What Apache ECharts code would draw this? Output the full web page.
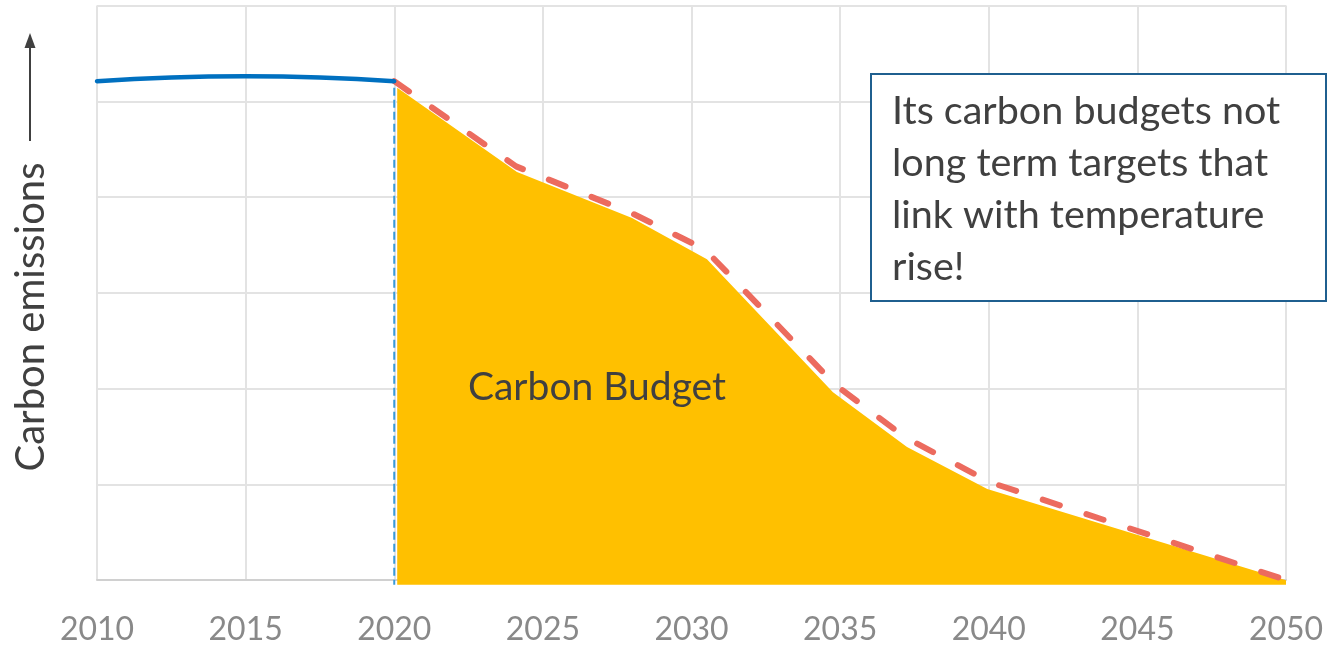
<!DOCTYPE html>
<html>
<head>
<meta charset="utf-8">
<script src="https://cdn.jsdelivr.net/npm/echarts@6/dist/echarts.min.js"></script>
<style>
  html, body { margin: 0; padding: 0; background: #ffffff; }
  #chart { width: 1327px; height: 646px; }
</style>
</head>
<body>
<div id="chart"></div>
<script>
// Tick years shown on the horizontal axis
const tickYears = [2010, 2015, 2020, 2025, 2030, 2035, 2040, 2045, 2050];

// Historic emissions (solid blue line)
const historicYears = [2010, 2015, 2020];
const historicValues = [5.21, 5.26, 5.21];

// Reduction pathway (red dashed line)
const pathwayYears = [2020, 2024.1, 2028.0, 2030.46, 2034.83, 2037.19, 2040.05, 2050];
const pathwayValues = [5.21, 4.32, 3.83, 3.45, 2.04, 1.49, 1.02, 0];

// Carbon budget (yellow filled region under the pathway)
const budgetYears = [2020.1, 2024.13, 2028.0, 2030.52, 2034.76, 2037.25, 2039.95, 2050.5];
const budgetValues = [5.14, 4.26, 3.78, 3.35, 1.96, 1.39, 0.95, -0.05];

// Start year marker (thin blue dashed vertical)
const markerYears = [2020, 2020];
const markerValues = [5.14, -0.05];

const pairs = (xs, ys) => xs.map((x, i) => [x, ys[i]]);

const FONT = 'Lato, "Open Sans", sans-serif';
const TEXT_COLOR = '#404040';

const chart = echarts.init(document.getElementById('chart'), null, { renderer: 'canvas' });

chart.setOption({
  animation: false,
  grid: { left: 97, right: 41, top: 5.5, bottom: 66, containLabel: false },
  xAxis: {
    type: 'value',
    min: 2010,
    max: 2050,
    interval: 5,
    axisLine: { show: true, lineStyle: { color: '#d0d0d0', width: 2 } },
    axisTick: { show: false },
    axisLabel: {
      margin: 34,
      color: '#898989',
      fontFamily: FONT,
      fontSize: 32,
      formatter: v => String(tickYears.find(t => t === v) ?? v)
    },
    splitLine: { show: true, lineStyle: { color: '#e3e3e3', width: 2 } }
  },
  yAxis: {
    type: 'value',
    min: 0,
    max: 6,
    interval: 1,
    axisLine: { show: false },
    axisTick: { show: false },
    axisLabel: { show: false },
    splitLine: { show: true, lineStyle: { color: '#e3e3e3', width: 2 } }
  },
  series: [
    {
      name: 'Carbon Budget',
      type: 'line',
      data: pairs(budgetYears, budgetValues),
      showSymbol: false,
      clip: false,
      z: 1,
      lineStyle: { width: 0, opacity: 0 },
      areaStyle: { color: '#FFC000', opacity: 1, origin: -0.05 }
    },
    {
      name: 'Start',
      type: 'line',
      data: pairs(markerYears, markerValues),
      showSymbol: false,
      clip: false,
      z: 2,
      lineStyle: { color: '#3a9ad9', width: 2, type: [8, 4] }
    },
    {
      name: 'Pathway',
      type: 'line',
      data: pairs(pathwayYears, pathwayValues),
      showSymbol: false,
      clip: false,
      z: 3,
      lineStyle: { color: '#EC6B5E', width: 6, type: [18, 28], cap: 'round' }
    },
    {
      name: 'Historic',
      type: 'line',
      data: pairs(historicYears, historicValues),
      smooth: true,
      showSymbol: false,
      z: 4,
      lineStyle: { color: '#0070C0', width: 4.5, cap: 'round' }
    }
  ],
  graphic: [
    // axis title with an upward arrow
    {
      type: 'text',
      x: 31,
      y: 317,
      rotation: Math.PI / 2,
      style: {
        text: 'Carbon emissions',
        fill: TEXT_COLOR,
        font: '40px ' + FONT,
        textAlign: 'center',
        textVerticalAlign: 'middle'
      }
    },
    {
      type: 'line',
      shape: { x1: 30, y1: 141, x2: 30, y2: 46 },
      style: { stroke: TEXT_COLOR, lineWidth: 2 }
    },
    {
      type: 'polygon',
      shape: { points: [[30, 33], [24.5, 48], [35.5, 48]] },
      style: { fill: TEXT_COLOR }
    },
    // label inside the budget area
    {
      type: 'text',
      x: 597,
      y: 387,
      z: 10,
      style: {
        text: 'Carbon Budget',
        fill: TEXT_COLOR,
        font: '39px ' + FONT,
        textAlign: 'center',
        textVerticalAlign: 'middle'
      }
    },
    // callout box
    {
      type: 'rect',
      z: 10,
      shape: { x: 871, y: 74, width: 455, height: 227 },
      style: { fill: '#ffffff', stroke: '#1F5F8F', lineWidth: 2 }
    },
    {
      type: 'text',
      z: 11,
      x: 892,
      y: 85,
      style: {
        text: 'Its carbon budgets not\nlong term targets that\nlink with temperature\nrise!',
        fill: TEXT_COLOR,
        font: '39.5px ' + FONT,
        lineHeight: 52,
        textAlign: 'left',
        textVerticalAlign: 'top'
      }
    }
  ]
});
</script>
</body>
</html>
